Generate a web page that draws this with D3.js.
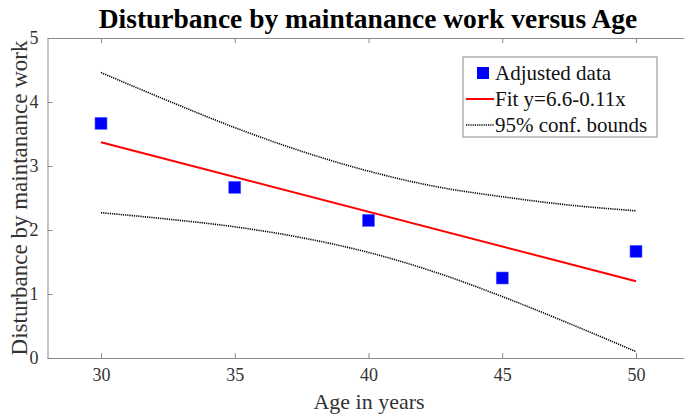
<!DOCTYPE html>
<html>
<head>
<meta charset="utf-8">
<script src="https://cdn.jsdelivr.net/npm/d3@7"></script>
<style>
  body { margin: 0; background: #fff; }
  svg { display: block; font-family: "Liberation Serif", "Times New Roman", serif; }
  .axis path, .axis line { stroke: #8a8a8a; stroke-width: 1; }
</style>
</head>
<body>
<div id="chart"></div>
<script>
"use strict";

// measured data (age vs disturbance)
var ages = [30, 35, 40, 45, 50];
var disturbance = [3.667, 2.667, 2.15, 1.25, 1.667];

// fitted line end points
var fitAges = [30, 50];
var fitValues = [3.37, 1.20];

// 95% confidence bounds
var boundAges = [30, 32.5, 35, 37.5, 40, 42.5, 45, 47.5, 50];
var upperBound = [4.46, 4.02, 3.60, 3.23, 2.92, 2.68, 2.52, 2.39, 2.30];
var lowerBound = [2.27, 2.17, 2.05, 1.88, 1.65, 1.34, 0.96, 0.54, 0.10];

var xTicks = [30, 35, 40, 45, 50];
var yTicks = [0, 1, 2, 3, 4, 5];
var legendLabels = ["Adjusted data", "Fit y=6.6-0.11x", "95% conf. bounds"];

var width = 684, height = 416;

var svg = d3.select("#chart").append("svg")
    .attr("width", width)
    .attr("height", height);

var x = d3.scaleLinear().domain([28, 52]).range([47.5, 689.5]);
var y = d3.scaleLinear().domain([0, 5]).range([358, 38]);

//title
svg.append("text")
    .attr("x", 368)
    .attr("y", 28)
    .attr("text-anchor", "middle")
    .attr("font-weight", "bold")
    .attr("font-size", 27.5)
    .attr("fill", "#000")
    .text("Disturbance by maintanance work versus Age");

//axes - ticks point inward
var styleAxis = function(g) {
    g.attr("font-family", "Liberation Serif, serif")
        .attr("font-size", 18);
    g.selectAll("text").attr("fill", "#333");
};

svg.append("g")
    .attr("class", "axis")
    .attr("transform", "translate(0," + y(0) + ")")
    .call(d3.axisBottom(x).tickValues(xTicks).tickSizeInner(-5).tickSizeOuter(0).tickPadding(10))
    .call(styleAxis);

svg.append("g")
    .attr("class", "axis")
    .attr("transform", "translate(0," + y(5) + ")")
    .call(d3.axisTop(x).tickValues(xTicks).tickSizeInner(-5).tickSizeOuter(0).tickFormat(""));

svg.append("g")
    .attr("class", "axis")
    .attr("transform", "translate(" + x(28) + ",0)")
    .call(d3.axisLeft(y).tickValues(yTicks).tickFormat(d3.format("d")).tickSizeInner(-5).tickSizeOuter(0).tickPadding(9))
    .call(styleAxis);

//axis labels
svg.append("text")
    .attr("x", 369)
    .attr("y", 409)
    .attr("text-anchor", "middle")
    .attr("font-size", 22)
    .attr("fill", "#333")
    .text("Age in years");

svg.append("text")
    .attr("transform", "translate(27," + y(2.5) + ") rotate(-90)")
    .attr("text-anchor", "middle")
    .attr("font-size", 23)
    .attr("fill", "#333")
    .text("Disturbance by maintanance work");

var plot = svg.append("g");

var line = d3.line()
    .x(function(d) { return x(d[0]); })
    .y(function(d) { return y(d[1]); });

var smoothLine = d3.line()
    .curve(d3.curveMonotoneX)
    .x(function(d) { return x(d[0]); })
    .y(function(d) { return y(d[1]); });

//confidence bounds
[upperBound, lowerBound].forEach(function(b) {
    plot.append("path")
        .attr("d", smoothLine(d3.zip(boundAges, b)))
        .attr("fill", "none")
        .attr("stroke", "#000")
        .attr("stroke-width", 1.6)
        .attr("stroke-dasharray", "1.2,1");
});

//fit
plot.append("path")
    .attr("d", line(d3.zip(fitAges, fitValues)))
    .attr("fill", "none")
    .attr("stroke", "#ff0000")
    .attr("stroke-width", 2);

//data points
plot.selectAll("rect.pt")
    .data(d3.zip(ages, disturbance))
    .enter()
    .append("rect")
    .attr("class", "pt")
    .attr("x", function(d) { return x(d[0]) - 6; })
    .attr("y", function(d) { return y(d[1]) - 6; })
    .attr("width", 12)
    .attr("height", 12)
    .attr("fill", "#0000ff")
    .attr("stroke", "#4d6bff")
    .attr("stroke-width", 0.6);

//legend
var legend = svg.append("g").attr("transform", "translate(463,57)");
legend.append("rect")
    .attr("width", 194)
    .attr("height", 80)
    .attr("fill", "#fff")
    .attr("stroke", "#8a8a8a");

var rows = legend.selectAll("g.row")
    .data(legendLabels)
    .enter()
    .append("g")
    .attr("class", "row")
    .attr("transform", function(d, i) { return "translate(0," + (16 + i * 26) + ")"; });

rows.append("text")
    .attr("x", 32)
    .attr("y", 7)
    .attr("font-size", 21)
    .attr("fill", "#111")
    .text(function(d) { return d; });

rows.filter(function(d, i) { return i == 0; })
    .append("rect")
    .attr("x", 14)
    .attr("y", -6)
    .attr("width", 12)
    .attr("height", 12)
    .attr("fill", "#0000ff");

rows.filter(function(d, i) { return i == 1; })
    .append("line")
    .attr("x1", 3).attr("x2", 31)
    .attr("stroke", "#ff0000")
    .attr("stroke-width", 2);

rows.filter(function(d, i) { return i == 2; })
    .append("line")
    .attr("x1", 3).attr("x2", 31)
    .attr("stroke", "#000")
    .attr("stroke-width", 1.6)
    .attr("stroke-dasharray", "1.2,1");
</script>
</body>
</html>
